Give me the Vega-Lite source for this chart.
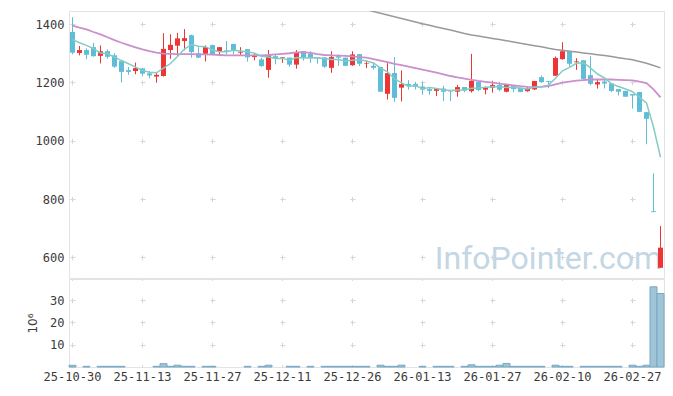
{
"$schema": "https://vega.github.io/schema/vega-lite/v6.json",
"padding": {"left": 26, "top": 10, "right": 9, "bottom": 5},
"spacing": 1,
"bounds": "flush",
"config": {
  "view": {"stroke": "#e3e3e3", "strokeWidth": 1},
  "axis": {"labelFont": "DejaVu Sans Mono", "labelFontSize": 12, "labelColor": "#3a3a3a", "titleFont": "DejaVu Sans", "titleFontSize": 12, "titleColor": "#3a3a3a", "titleFontWeight": "normal", "domain": false, "ticks": false, "gridColor": "#d6d6d6", "gridWidth": 1}
},
"datasets": {"k": [
{"d":"25-10-30","o":1373,"h":1424,"l":1296,"c":1302,"v":0.75,"m5":1347,"m20":1395},
{"d":"25-10-31","o":1301,"h":1325,"l":1293,"c":1311,"v":0,"m5":1336,"m20":1388},
{"d":"25-11-03","o":1311,"h":1317,"l":1279,"c":1295,"v":0.3,"m5":1327,"m20":1382},
{"d":"25-11-04","o":1321,"h":1336,"l":1288,"c":1290,"v":0,"m5":1316,"m20":1373},
{"d":"25-11-05","o":1291,"h":1327,"l":1265,"c":1307,"v":0.3,"m5":1301,"m20":1365},
{"d":"25-11-06","o":1307,"h":1313,"l":1281,"c":1288,"v":0.3,"m5":1298.2,"m20":1355},
{"d":"25-11-07","o":1293,"h":1300,"l":1250,"c":1254,"v":0.3,"m5":1286.8,"m20":1345},
{"d":"25-11-10","o":1273,"h":1273,"l":1200,"c":1236,"v":0.3,"m5":1275,"m20":1336},
{"d":"25-11-11","o":1242,"h":1253,"l":1226,"c":1236,"v":0,"m5":1264.2,"m20":1328},
{"d":"25-11-12","o":1239,"h":1268,"l":1228,"c":1249,"v":0,"m5":1252.6,"m20":1320},
{"d":"25-11-13","o":1248,"h":1250,"l":1221,"c":1230,"v":0,"m5":1241,"m20":1313},
{"d":"25-11-14","o":1231,"h":1239,"l":1214,"c":1224,"v":0,"m5":1235,"m20":1307},
{"d":"25-11-17","o":1220,"h":1236,"l":1199,"c":1226,"v":0.3,"m5":1233,"m20":1302},
{"d":"25-11-18","o":1222,"h":1369,"l":1220,"c":1315,"v":1.5,"m5":1248.8,"m20":1299},
{"d":"25-11-19","o":1311,"h":1365,"l":1281,"c":1329,"v":0.3,"m5":1264.8,"m20":1298},
{"d":"25-11-20","o":1326,"h":1370,"l":1290,"c":1351,"v":0.8,"m5":1289,"m20":1297},
{"d":"25-11-21","o":1342,"h":1383,"l":1310,"c":1352,"v":0.3,"m5":1314.6,"m20":1297},
{"d":"25-11-24","o":1362,"h":1364,"l":1285,"c":1304,"v":0.3,"m5":1330.2,"m20":1297},
{"d":"25-11-25","o":1300,"h":1321,"l":1283,"c":1285,"v":0,"m5":1324.2,"m20":1296},
{"d":"25-11-26","o":1298,"h":1327,"l":1272,"c":1321,"v":0.3,"m5":1322.6,"m20":1296},
{"d":"25-11-27","o":1328,"h":1330,"l":1293,"c":1295,"v":0.3,"m5":1311.4,"m20":1295},
{"d":"25-11-28","o":1305,"h":1321,"l":1290,"c":1321,"v":0,"m5":1305.2,"m20":1294},
{"d":"25-12-01","o":1310,"h":1342,"l":1296,"c":1306,"v":0,"m5":1305.6,"m20":1293},
{"d":"25-12-02","o":1332,"h":1332,"l":1296,"c":1310,"v":0,"m5":1310.6,"m20":1293},
{"d":"25-12-03","o":1302,"h":1321,"l":1293,"c":1305,"v":0,"m5":1307.4,"m20":1293},
{"d":"25-12-04","o":1314,"h":1314,"l":1271,"c":1286,"v":0.3,"m5":1305.6,"m20":1293},
{"d":"25-12-05","o":1287,"h":1300,"l":1276,"c":1293,"v":0,"m5":1300,"m20":1293},
{"d":"25-12-08","o":1279,"h":1285,"l":1254,"c":1256,"v":0.3,"m5":1290,"m20":1293},
{"d":"25-12-09","o":1243,"h":1311,"l":1216,"c":1294,"v":0.8,"m5":1286.8,"m20":1294},
{"d":"25-12-10","o":1290,"h":1296,"l":1262,"c":1282,"v":0,"m5":1282.2,"m20":1296},
{"d":"25-12-11","o":1285,"h":1287,"l":1267,"c":1287,"v":0,"m5":1282.4,"m20":1298},
{"d":"25-12-12","o":1285,"h":1285,"l":1254,"c":1261,"v":0.3,"m5":1276,"m20":1300},
{"d":"25-12-15","o":1261,"h":1311,"l":1247,"c":1303,"v":0.3,"m5":1285.4,"m20":1303},
{"d":"25-12-16","o":1307,"h":1307,"l":1275,"c":1285,"v":0,"m5":1283.6,"m20":1304},
{"d":"25-12-17","o":1299,"h":1307,"l":1267,"c":1285,"v":0.3,"m5":1284.2,"m20":1301},
{"d":"25-12-18","o":1286,"h":1286,"l":1264,"c":1283,"v":0,"m5":1283.4,"m20":1297},
{"d":"25-12-19","o":1286,"h":1286,"l":1250,"c":1254,"v":0.3,"m5":1282,"m20":1294},
{"d":"25-12-22","o":1250,"h":1307,"l":1233,"c":1287,"v":0.3,"m5":1278.8,"m20":1293},
{"d":"25-12-23","o":1290,"h":1296,"l":1257,"c":1285,"v":0.3,"m5":1278.8,"m20":1292},
{"d":"25-12-24","o":1285,"h":1285,"l":1257,"c":1257,"v":0.3,"m5":1273.2,"m20":1291},
{"d":"25-12-26","o":1259,"h":1307,"l":1257,"c":1296,"v":0.3,"m5":1275.8,"m20":1289,"m60":1462},
{"d":"25-12-29","o":1297,"h":1297,"l":1256,"c":1264,"v":0.3,"m5":1277.8,"m20":1287,"m60":1456},
{"d":"25-12-30","o":1264,"h":1275,"l":1249,"c":1266,"v":0.3,"m5":1273.6,"m20":1285,"m60":1450},
{"d":"26-01-02","o":1257,"h":1267,"l":1244,"c":1250,"v":0,"m5":1266.6,"m20":1280,"m60":1443},
{"d":"26-01-05","o":1253,"h":1253,"l":1168,"c":1168,"v":0.8,"m5":1248.8,"m20":1275,"m60":1437},
{"d":"26-01-06","o":1161,"h":1266,"l":1141,"c":1232,"v":0.3,"m5":1236,"m20":1270,"m60":1431},
{"d":"26-01-07","o":1232,"h":1287,"l":1133,"c":1147,"v":0.3,"m5":1212.6,"m20":1264,"m60":1425},
{"d":"26-01-08","o":1182,"h":1241,"l":1135,"c":1194,"v":0.8,"m5":1198.2,"m20":1259,"m60":1419},
{"d":"26-01-09","o":1195,"h":1208,"l":1175,"c":1189,"v":0,"m5":1186,"m20":1254,"m60":1413},
{"d":"26-01-12","o":1195,"h":1202,"l":1176,"c":1185,"v":0,"m5":1189.4,"m20":1249,"m60":1407},
{"d":"26-01-13","o":1186,"h":1202,"l":1158,"c":1175,"v":0.3,"m5":1178,"m20":1244,"m60":1401},
{"d":"26-01-14","o":1177,"h":1183,"l":1158,"c":1171,"v":0,"m5":1182.8,"m20":1239,"m60":1396},
{"d":"26-01-15","o":1171,"h":1177,"l":1153,"c":1177,"v":0.3,"m5":1179.4,"m20":1234,"m60":1390},
{"d":"26-01-16","o":1179,"h":1188,"l":1136,"c":1168,"v":0.3,"m5":1175.2,"m20":1228,"m60":1385},
{"d":"26-01-19","o":1173,"h":1173,"l":1136,"c":1169,"v":0.3,"m5":1172,"m20":1222,"m60":1380},
{"d":"26-01-20","o":1168,"h":1191,"l":1151,"c":1184,"v":0,"m5":1173.8,"m20":1217,"m60":1374},
{"d":"26-01-21","o":1184,"h":1184,"l":1166,"c":1172,"v":0.3,"m5":1174,"m20":1213,"m60":1368},
{"d":"26-01-22","o":1170,"h":1298,"l":1165,"c":1205,"v":1.0,"m5":1179.6,"m20":1209,"m60":1363},
{"d":"26-01-23","o":1202,"h":1205,"l":1170,"c":1174,"v":0.3,"m5":1180.8,"m20":1205,"m60":1359},
{"d":"26-01-26","o":1175,"h":1186,"l":1159,"c":1183,"v":0.3,"m5":1183.6,"m20":1202,"m60":1355},
{"d":"26-01-27","o":1182,"h":1205,"l":1165,"c":1191,"v":0.3,"m5":1185,"m20":1199,"m60":1351},
{"d":"26-01-28","o":1191,"h":1202,"l":1170,"c":1175,"v":0.8,"m5":1185.6,"m20":1196,"m60":1347},
{"d":"26-01-29","o":1168,"h":1191,"l":1166,"c":1191,"v":1.6,"m5":1182.8,"m20":1193,"m60":1343},
{"d":"26-01-30","o":1189,"h":1189,"l":1166,"c":1177,"v":0.3,"m5":1183.4,"m20":1190,"m60":1339},
{"d":"26-02-02","o":1182,"h":1182,"l":1167,"c":1167,"v":0.3,"m5":1180.2,"m20":1187,"m60":1334},
{"d":"26-02-03","o":1170,"h":1184,"l":1168,"c":1178,"v":0.3,"m5":1177.6,"m20":1185,"m60":1330},
{"d":"26-02-04","o":1176,"h":1205,"l":1174,"c":1205,"v":0.3,"m5":1183.6,"m20":1184,"m60":1326},
{"d":"26-02-05","o":1218,"h":1224,"l":1198,"c":1201,"v":0.3,"m5":1185.6,"m20":1185,"m60":1322},
{"d":"26-02-06","o":1205,"h":1205,"l":1180,"c":1202,"v":0,"m5":1190.6,"m20":1187,"m60":1317},
{"d":"26-02-09","o":1223,"h":1289,"l":1222,"c":1284,"v":0.8,"m5":1214,"m20":1193,"m60":1313},
{"d":"26-02-10","o":1280,"h":1338,"l":1278,"c":1307,"v":0.3,"m5":1239.8,"m20":1199,"m60":1310},
{"d":"26-02-11","o":1308,"h":1308,"l":1255,"c":1264,"v":0.3,"m5":1251.6,"m20":1203,"m60":1307},
{"d":"26-02-12","o":1269,"h":1283,"l":1243,"c":1272,"v":0,"m5":1265.8,"m20":1206,"m60":1304},
{"d":"26-02-13","o":1276,"h":1276,"l":1210,"c":1212,"v":0.3,"m5":1267.8,"m20":1208,"m60":1301},
{"d":"26-02-19","o":1225,"h":1290,"l":1190,"c":1195,"v":0.3,"m5":1250,"m20":1210,"m60":1298},
{"d":"26-02-20","o":1193,"h":1212,"l":1179,"c":1201,"v":0.3,"m5":1228.8,"m20":1210,"m60":1295},
{"d":"26-02-23","o":1203,"h":1209,"l":1179,"c":1196,"v":0.3,"m5":1215.2,"m20":1210,"m60":1292},
{"d":"26-02-24","o":1197,"h":1197,"l":1167,"c":1171,"v":0.3,"m5":1195,"m20":1210,"m60":1289},
{"d":"26-02-25","o":1177,"h":1177,"l":1155,"c":1168,"v":0.3,"m5":1186.2,"m20":1209,"m60":1285},
{"d":"26-02-26","o":1171,"h":1171,"l":1150,"c":1151,"v":0,"m5":1177.4,"m20":1208,"m60":1281},
{"d":"26-02-27","o":1160,"h":1160,"l":1110,"c":1155,"v":0.8,"m5":1168.2,"m20":1207,"m60":1278},
{"d":"26-03-03","o":1167,"h":1167,"l":1098,"c":1099,"v":0.3,"m5":1148.8,"m20":1203,"m60":1272},
{"d":"26-03-04","o":1098,"h":1098,"l":988,"c":1075,"v":0.8,"m5":1129.6,"m20":1198,"m60":1266},
{"d":"26-03-05","o":758,"h":888,"l":755,"c":755,"v":36,"m5":1047,"m20":1176,"m60":1258},
{"d":"26-03-06","o":564,"h":707,"l":564,"c":633,"v":33,"m5":943.4,"m20":1149,"m60":1250}
]},
"vconcat": [
{
  "width": 595, "height": 267,
  "data": {"name": "k"},
  "encoding": {
    "x": {"field": "d", "type": "ordinal", "title": null,
      "scale": {"paddingInner": 0, "paddingOuter": 0},
      "axis": {"orient": "bottom", "values": ["25-10-30","25-11-13","25-11-27","25-12-11","25-12-26","26-01-13","26-01-27","26-02-10","26-02-27"], "labels": false, "title": null, "grid": true, "bandPosition": 0.5, "gridDash": [5, 53.3], "gridDashOffset": 47.7, "labelPadding": 0, "minExtent": 0, "maxExtent": 0}}
  },
  "layer": [
    {"data": {"values": [{"t": "InfoPointer.com"}]},
     "mark": {"type": "text", "font": "Roboto", "fontSize": 32, "color": "#c3d6e3", "align": "center", "baseline": "alphabetic"},
     "encoding": {"x": {"datum": "26-02-06"}, "y": {"datum": 560, "type": "quantitative"}, "text": {"field": "t"}}},
    {"mark": {"type": "rule", "strokeWidth": 1, "clip": true},
     "encoding": {
       "y": {"field": "l", "type": "quantitative", "title": null,
         "scale": {"domain": [529, 1445], "nice": false, "zero": false},
         "axis": {"values": [600, 800, 1000, 1200, 1400], "format": "d", "title": null, "grid": true, "gridDash": [5, 65], "gridDashOffset": 69, "labelPadding": 5}},
       "y2": {"field": "h"},
       "color": {"condition": {"test": "datum.c >= datum.o", "value": "#ee3535"}, "value": "#5fbdd7"}}},
    {"mark": {"type": "bar", "size": 5, "clip": true},
     "encoding": {
       "y": {"field": "o", "type": "quantitative", "title": null},
       "y2": {"field": "c"},
       "color": {"condition": {"test": "datum.c >= datum.o", "value": "#ee3535"}, "value": "#5fbdd7"}}},
    {"mark": {"type": "line", "color": "#999999", "strokeWidth": 1.5, "clip": true},
     "encoding": {"y": {"field": "m60", "type": "quantitative", "title": null}}},
    {"mark": {"type": "line", "color": "#cc8fcc", "strokeWidth": 1.8, "clip": true},
     "encoding": {"y": {"field": "m20", "type": "quantitative", "title": null}}},
    {"mark": {"type": "line", "color": "#84ccc3", "strokeWidth": 1.5, "clip": true},
     "encoding": {"y": {"field": "m5", "type": "quantitative", "title": null}}}
  ]
},
{
  "width": 595, "height": 88,
  "data": {"name": "k"},
  "mark": {"type": "bar", "fill": "#9fc4d6", "stroke": "#76a8c6", "strokeWidth": 1},
  "encoding": {
    "x": {"field": "d", "type": "ordinal", "title": null,
      "scale": {"paddingInner": 0, "paddingOuter": 0},
      "axis": {"values": ["25-10-30","25-11-13","25-11-27","25-12-11","25-12-26","26-01-13","26-01-27","26-02-10","26-02-27"], "labelAngle": 0, "title": null, "grid": true, "bandPosition": 0.5, "gridDash": [5, 17.28], "gridDashOffset": 3.62, "labelPadding": 4}},
    "y": {"field": "v", "type": "quantitative",
      "scale": {"domain": [0, 39.5], "nice": false},
      "axis": {"values": [10, 20, 30], "title": "10⁶", "grid": true, "gridDash": [5, 65], "gridDashOffset": 69, "labelPadding": 5, "titlePadding": 10}},
    "strokeOpacity": {"condition": {"test": "datum.v > 0", "value": 1}, "value": 0}
  }
}
]
}
